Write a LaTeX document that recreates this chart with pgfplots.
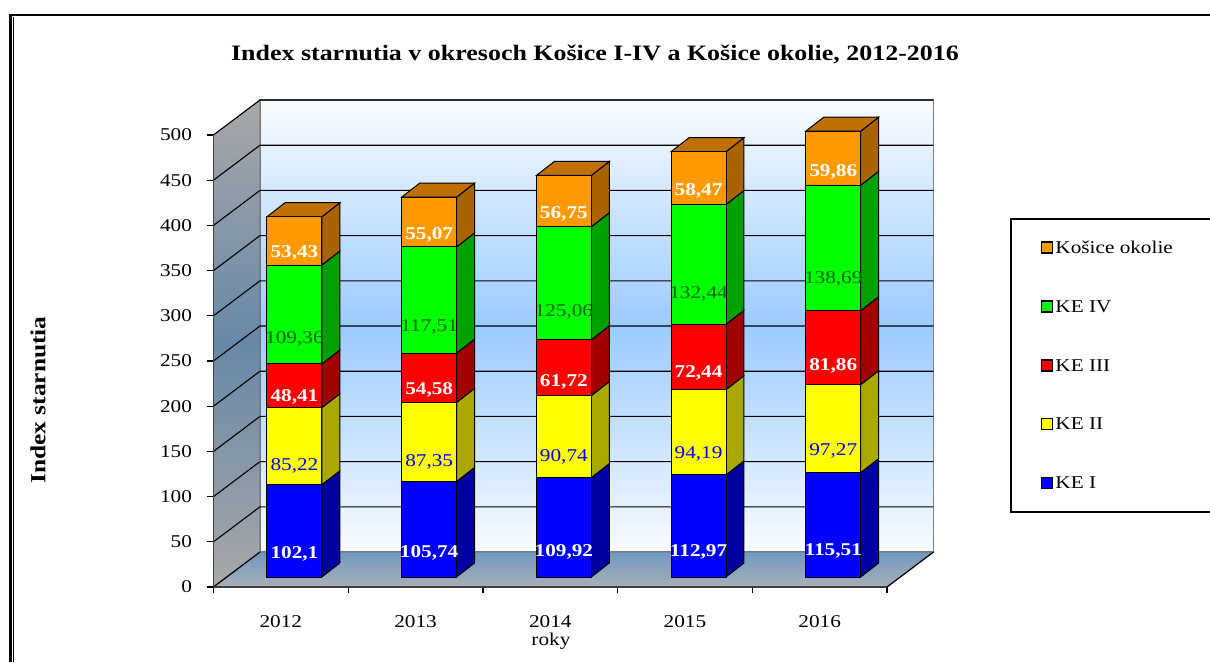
\documentclass[border=0pt]{standalone}
\usepackage{fontspec}
\setmainfont[FakeStretch=1.18]{Liberation Serif}
\usepackage{pgfplots}
\usepackage{pgfplotstable}
\pgfplotsset{compat=1.18}

\definecolor{cblue}{HTML}{0000FF}
\definecolor{cyellow}{HTML}{FFFF00}
\definecolor{cred}{HTML}{FF0000}
\definecolor{cgreen}{HTML}{00FF00}
\definecolor{corange}{HTML}{FF9900}
\definecolor{sblue}{HTML}{0000A0}
\definecolor{syellow}{HTML}{A8A800}
\definecolor{sred}{HTML}{A00000}
\definecolor{sgreen}{HTML}{00A000}
\definecolor{sorange}{HTML}{A86400}
\definecolor{torange}{HTML}{C07000}
\definecolor{wallmid}{HTML}{9CCBFF}
\definecolor{walllight}{HTML}{F9FCFF}
\definecolor{sidemid}{HTML}{6888A8}
\definecolor{sidegrey}{HTML}{A8A8A8}
\definecolor{floorback}{HTML}{7098C0}
\definecolor{floorfront}{HTML}{A8B0B8}

\pgfplotstableread{
year kei keii keiii keiv okolie
2012 102.1 85.22 48.41 109.36 53.43
2013 105.74 87.35 54.58 117.51 55.07
2014 109.92 90.74 61.72 125.06 56.75
2015 112.97 94.19 72.44 132.44 58.47
2016 115.51 97.27 81.86 138.69 59.86
}\datatable

% grid line: front tick, along the side wall, across the back wall
\newcommand\gridline[2]{%
  \addplot[forget plot,black,line width=1.1pt] coordinates {(0,#1) (0.345,#2) (5.345,#2)};
}
% right hand face of one bar segment
\newcommand\sideface[4]{%
  \pgfmathsetmacro\xa{#1+0.2037}%
  \pgfmathsetmacro\xb{#1+0.2037+0.1336}%
  \pgfmathsetmacro\ya{#2}%
  \pgfmathsetmacro\yb{#3}%
  \pgfmathsetmacro\yc{#3+15.5}%
  \pgfmathsetmacro\yd{#2+15.5}%
  \addplot[forget plot,draw=black,line width=1pt,fill=#4] coordinates {(\xa,\ya) (\xa,\yb) (\xb,\yc) (\xb,\yd)} -- cycle;
}
\newcommand\barfaces[6]{%
  \pgfmathsetmacro\ca{#2}%
  \pgfmathsetmacro\cb{\ca+#3}%
  \pgfmathsetmacro\cc{\cb+#4}%
  \pgfmathsetmacro\cd{\cc+#5}%
  \pgfmathsetmacro\ce{\cd+#6}%
  \edef\doit{%
    \noexpand\sideface{#1}{0}{\ca}{sblue}%
    \noexpand\sideface{#1}{\ca}{\cb}{syellow}%
    \noexpand\sideface{#1}{\cb}{\cc}{sred}%
    \noexpand\sideface{#1}{\cc}{\cd}{sgreen}%
    \noexpand\sideface{#1}{\cd}{\ce}{sorange}%
  }\doit
  \pgfmathsetmacro\xl{#1-0.2037}%
  \pgfmathsetmacro\xr{#1+0.2037}%
  \pgfmathsetmacro\xs{#1-0.2037+0.1336}%
  \pgfmathsetmacro\xt{#1+0.2037+0.1336}%
  \pgfmathsetmacro\yt{\ce+15.5}%
  \addplot[forget plot,draw=black,line width=1pt,fill=torange] coordinates {(\xl,\ce) (\xr,\ce) (\xt,\yt) (\xs,\yt)} -- cycle;
}

\pgfplotsset{
  plane/.style={
    scale only axis,width=673.5pt,height=452pt,
    ymin=0,ymax=500,clip=false,
  },
  barplane/.style={
    plane,hide axis,
    at={(227.1pt,85pt)},anchor=south west,
    xmin=2011.5,xmax=2016.5,
  },
  % the shift is applied twice by the node, hence a quarter of 0.904 pt per unit
  barlabel/.style 2 args={
    nodes near coords,
    visualization depends on={\thisrow{#2} \as \segh},
    every node near coord/.style={
      anchor=center,font=\fontsize{18}{20}\selectfont#1,
      yshift=-0.226pt*\segh,
      /pgf/number format/.cd,fixed,precision=2,use comma,assume math mode=true,
    },
  },
}

\begin{document}
\begin{tikzpicture}[x=1pt,y=1pt]
\path[use as bounding box] (0,0) rectangle (1210,662);
\fill[white] (0,0) rectangle (1210,662);
\draw[line width=2.2pt] (10.5,0) -- (10.5,647) -- (1210,647);
\draw[line width=1pt] (13.5,0) -- (13.5,645);

% walls, floor, ticks and labels
\begin{axis}[
  plane,
  at={(213.5pt,75pt)},anchor=south west,
  xmin=0,xmax=5,
  axis on top,
  axis x line*=bottom,axis y line*=left,
  axis line style={-,line width=1.4pt,draw=black!75},
  tick align=outside,
  major tick length=6pt,
  tick style={black,line width=1.2pt},
  xtick={0,1,2,3,4,5},xticklabels={},
  extra x ticks={0.5,1.5,2.5,3.5,4.5},
  extra x tick labels={2012,2013,2014,2015,2016},
  extra x tick style={major tick length=0pt,tick label style={yshift=-25pt}},
  ytick={0,50,100,150,200,250,300,350,400,450,500},
  /pgf/number format/assume math mode=true,
  ticklabel style={font=\fontsize{18}{20}\selectfont},
  y tick label style={xshift=-12pt},
  title={\textbf{Index starnutia v okresoch Košice I-IV a Košice okolie, 2012-2016}},
  title style={at={(0.5664,1.166)},anchor=center,font=\fontsize{22}{26}\selectfont},
  xlabel={roky},
  xlabel style={at={(0.501,-0.119)},anchor=center,font=\fontsize{18}{20}\selectfont},
  ylabel={\textbf{Index starnutia}},
  ylabel style={at={(-0.2606,0.4137)},anchor=center,font=\fontsize{21.5}{26}\selectfont},
]
\addplot[forget plot,draw=black!50,line width=1.2pt,top color=walllight,bottom color=walllight,middle color=wallmid]
  coordinates {(0.345,38.7) (0.345,538.7) (5.345,538.7) (5.345,38.7)} -- cycle;
\addplot[forget plot,draw=black!60,line width=0.6pt,top color=sidegrey,bottom color=sidegrey,middle color=sidemid]
  coordinates {(0,0) (0,500) (0.345,538.7) (0.345,38.7)} -- cycle;
\addplot[forget plot,draw=black!60,line width=0.6pt,top color=floorback,bottom color=floorfront]
  coordinates {(0,0) (0.345,38.7) (5.345,38.7) (5,0)} -- cycle;
\gridline{50}{88.7}
\gridline{100}{138.7}
\gridline{150}{188.7}
\gridline{200}{238.7}
\gridline{250}{288.7}
\gridline{300}{338.7}
\gridline{350}{388.7}
\gridline{400}{438.7}
\gridline{450}{488.7}
\gridline{500}{538.7}
\addplot[forget plot,black,line width=1.2pt] coordinates {(0,0) (0.345,38.7)};
\addplot[forget plot,black,line width=1.2pt] coordinates {(5,0) (5.345,38.7)};
\end{axis}

% side and top faces of the bars
\begin{axis}[barplane]
\barfaces{2012}{102.1}{85.22}{48.41}{109.36}{53.43}
\barfaces{2013}{105.74}{87.35}{54.58}{117.51}{55.07}
\barfaces{2014}{109.92}{90.74}{61.72}{125.06}{56.75}
\barfaces{2015}{112.97}{94.19}{72.44}{132.44}{58.47}
\barfaces{2016}{115.51}{97.27}{81.86}{138.69}{59.86}
\end{axis}

% front faces, values and legend
\begin{axis}[
  barplane,
  ybar stacked,
  bar width=55pt,
  legend style={
    at={(1.1625,0.794)},anchor=north west,
    draw=black,line width=1.6pt,
    font=\fontsize{18}{20}\selectfont,
    row sep=41.5pt,inner xsep=30pt,inner ysep=20pt,
    /tikz/every even column/.append style={column sep=5pt},
  },
  legend cell align=left,
  reverse legend,
  legend image code/.code={
    \draw[draw=black,line width=1.6pt,#1] (0pt,-5pt) rectangle (11pt,6pt);
  },
]
\addplot[draw=black,line width=1pt,fill=cblue,barlabel={\bfseries\color{white}}{kei}] table[x=year,y=kei] {\datatable};
\addplot[draw=black,line width=1pt,fill=cyellow,barlabel={\color{blue}}{keii}] table[x=year,y=keii] {\datatable};
\addplot[draw=black,line width=1pt,fill=cred,barlabel={\bfseries\color{white}}{keiii}] table[x=year,y=keiii] {\datatable};
\addplot[draw=black,line width=1pt,fill=cgreen,barlabel={\color{black!60!green}}{keiv}] table[x=year,y=keiv] {\datatable};
\addplot[draw=black,line width=1pt,fill=corange,barlabel={\bfseries\color{white}}{okolie}] table[x=year,y=okolie] {\datatable};
\legend{KE I,KE II,KE III,KE IV,\makebox[170pt][l]{Košice okolie}}
\end{axis}
\end{tikzpicture}
\end{document}
